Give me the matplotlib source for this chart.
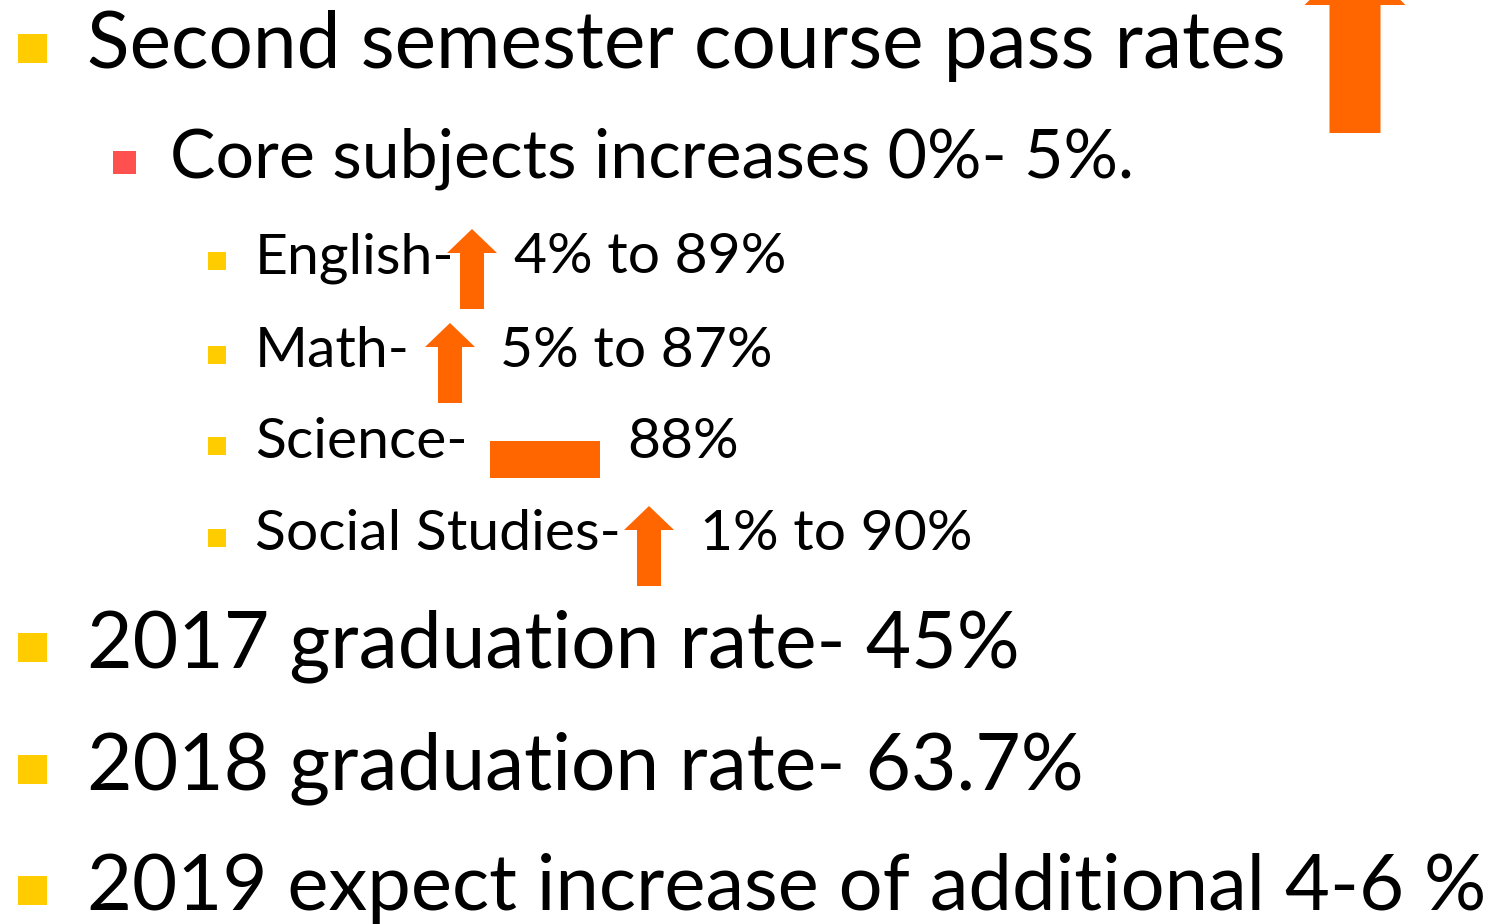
import matplotlib.pyplot as plt
from matplotlib.patches import Polygon, Rectangle

plt.rcParams['font.family'] = ['Lato', 'DejaVu Sans']

# slide content
headline = "Second semester course pass rates"
core_note = "Core subjects increases 0%- 5%."
subjects = ["English", "Math", "Science", "Social Studies"]
subject_change = [4, 5, 0, 1]
subject_rate = [89, 87, 88, 90]
grad_lines = ["2017 graduation rate- 45%", "2018 graduation rate- 63.7%",
              "2019 expect increase of additional 4-6 %"]

YELLOW = '#FFCC00'
RED = '#FF5050'
ORANGE = '#FF6600'

W, H = 1496, 924
fig = plt.figure(figsize=(W / 100, H / 100), dpi=100)
ax = fig.add_axes([0, 0, 1, 1])
ax.set_xlim(0, W)
ax.set_ylim(H, 0)
ax.axis('off')

px = 72 / 100  # pixels -> points
big, mid, small = 78.5 * px, 68 * px, 57 * px


def up_arrow(xc, tip, bottom, head_w, shaft_w, head_h):
    pts = [(xc, tip), (xc + head_w / 2, tip + head_h), (xc + shaft_w / 2, tip + head_h),
           (xc + shaft_w / 2, bottom), (xc - shaft_w / 2, bottom),
           (xc - shaft_w / 2, tip + head_h), (xc - head_w / 2, tip + head_h)]
    ax.add_patch(Polygon(pts, closed=True, color=ORANGE, lw=0))


def bullet(x, y, size, color):
    ax.add_patch(Rectangle((x, y - size), size, size, color=color, lw=0))


# level 0 headline
bullet(18, 63, 29, YELLOW)
ax.text(87, 68, headline, fontsize=big, va='baseline')
up_arrow(1355, -45, 133, 101, 51, 50)

# level 1
bullet(113, 174, 23, RED)
ax.text(170, 178, core_note, fontsize=mid, va='baseline')

# level 2 subjects
sub_base = [273, 367, 458, 550]
arrow_x = [472, 450, 545, 649]
value_x = [514, 500, 627, 700]
for i, name in enumerate(subjects):
    yb = sub_base[i]
    bullet(208, yb - 3, 18, YELLOW)
    ax.text(255, yb, name + "-", fontsize=small, va='baseline')
    if subject_change[i] > 0:
        up_arrow(arrow_x[i], yb - 44, yb + 36, 50, 24, 24)
        label = f"{subject_change[i]}% to {subject_rate[i]}%"
    else:
        ax.add_patch(Rectangle((490, yb - 17), 110, 37, color=ORANGE, lw=0))
        label = f"{subject_rate[i]}%"
    ax.text(value_x[i], yb, label, fontsize=small, va='baseline')

# graduation lines
for i, (yb, t) in enumerate(zip([667, 789, 910], grad_lines)):
    bullet(18, yb - 5, 29, YELLOW)
    fs = big if i < 2 else 77.8 * px
    ax.text(87, yb, t, fontsize=fs, va='baseline')

fig.savefig('out.png', dpi=100)
